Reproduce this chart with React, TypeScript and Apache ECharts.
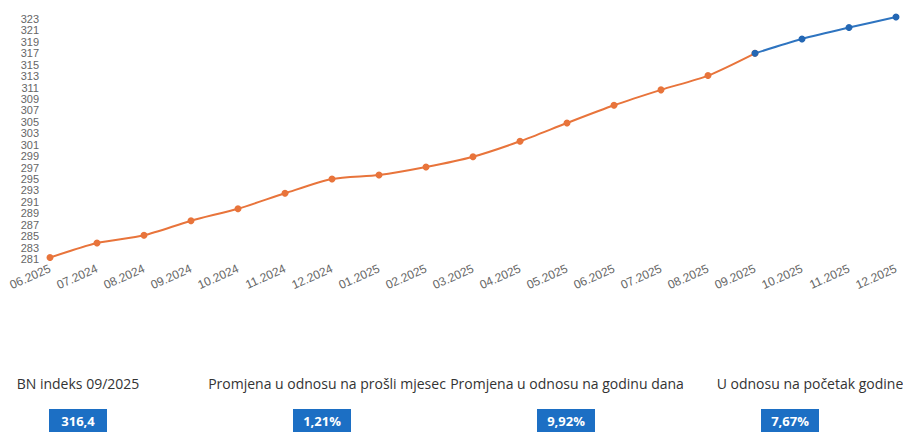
import React, { useEffect, useRef } from "react";
import * as echarts from "echarts";

const months = [
  "06.2025", "07.2024", "08.2024", "09.2024", "10.2024", "11.2024", "12.2024",
  "01.2025", "02.2025", "03.2025", "04.2025", "05.2025", "06.2025", "07.2025",
  "08.2025", "09.2025", "10.2025", "11.2025", "12.2025",
];

const indexValues = [
  281.25, 283.8, 285.15, 287.7, 289.8, 292.5, 295.0, 295.7, 297.1, 298.9,
  301.6, 304.8, 307.9, 310.6, 313.1, 317.0, 319.5, 321.5, 323.35,
];

// index of the last actual month; later points are the projection (blue)
const lastActualIndex = 15;

const yMin = 281;
const yMax = 323;
const yStep = 2;

const statTitles = [
  "BN indeks 09/2025",
  "Promjena u odnosu na prošli mjesec",
  "Promjena u odnosu na godinu dana",
  "U odnosu na početak godine",
];
const statValues = ["316,4", "1,21%", "9,92%", "7,67%"];
const statTitleCenters = [78, 327, 567, 810];
const statBoxCenters = [78, 322, 566, 790];

export default function App() {
  const ref = useRef<HTMLDivElement>(null);

  useEffect(() => {
    if (!ref.current) return;
    const chart = echarts.init(ref.current, undefined, { renderer: "svg" });

    const orangeData = indexValues.map((v, i) => (i <= lastActualIndex ? v : "-"));
    const blueData = indexValues.map((v, i) => (i >= lastActualIndex ? v : "-"));

    const graphics: any[] = [];
    statTitles.forEach((t, i) => {
      graphics.push({
        type: "text",
        x: statTitleCenters[i],
        y: 383,
        style: {
          text: t,
          fill: "#333333",
          font: '14px "Open Sans", "Noto Sans", sans-serif',
          align: "center",
          verticalAlign: "middle",
        },
      });
      graphics.push({
        type: "rect",
        x: statBoxCenters[i] - 29,
        y: 409,
        shape: { x: 0, y: 0, width: 58, height: 30 },
        style: { fill: "#1c6fc4" },
      });
      graphics.push({
        type: "text",
        x: statBoxCenters[i],
        y: 421,
        style: {
          text: statValues[i],
          fill: "#ffffff",
          font: 'bold 13px "Open Sans", "Noto Sans", sans-serif',
          align: "center",
          verticalAlign: "middle",
        },
      });
    });

    chart.setOption({
      animation: false,
      backgroundColor: "#ffffff",
      grid: { left: 50, right: 7, top: 19, bottom: 173, containLabel: false },
      xAxis: {
        type: "category",
        boundaryGap: false,
        data: months,
        axisLine: { show: false },
        axisTick: { show: false },
        splitLine: { show: false },
        axisLabel: {
          rotate: 24,
          interval: 0,
          margin: 9,
          color: "#666666",
          fontSize: 12,
          fontFamily: "Arial, 'Liberation Sans', sans-serif",
        },
      },
      yAxis: {
        type: "value",
        min: yMin,
        max: yMax,
        interval: yStep,
        axisLine: { show: false },
        axisTick: { show: false },
        splitLine: { show: false },
        axisLabel: {
          margin: 11,
          color: "#666666",
          fontSize: 11,
          fontFamily: "Arial, 'Liberation Sans', sans-serif",
        },
      },
      series: [
        {
          type: "line",
          data: orangeData,
          smooth: 0.25,
          clip: false,
          symbol: "circle",
          symbolSize: 7,
          lineStyle: { color: "#e8743b", width: 2 },
          itemStyle: { color: "#e8743b" },
          z: 2,
        },
        {
          type: "line",
          data: blueData,
          smooth: 0.25,
          clip: false,
          symbol: "circle",
          symbolSize: 7,
          lineStyle: { color: "#2e74c0", width: 2 },
          itemStyle: { color: "#2467b4" },
          z: 3,
        },
      ],
      graphic: graphics,
    });

    return () => chart.dispose();
  }, []);

  return (
    <div
      ref={ref}
      style={{ position: "fixed", left: 0, top: 0, width: 903, height: 432 }}
    />
  );
}
